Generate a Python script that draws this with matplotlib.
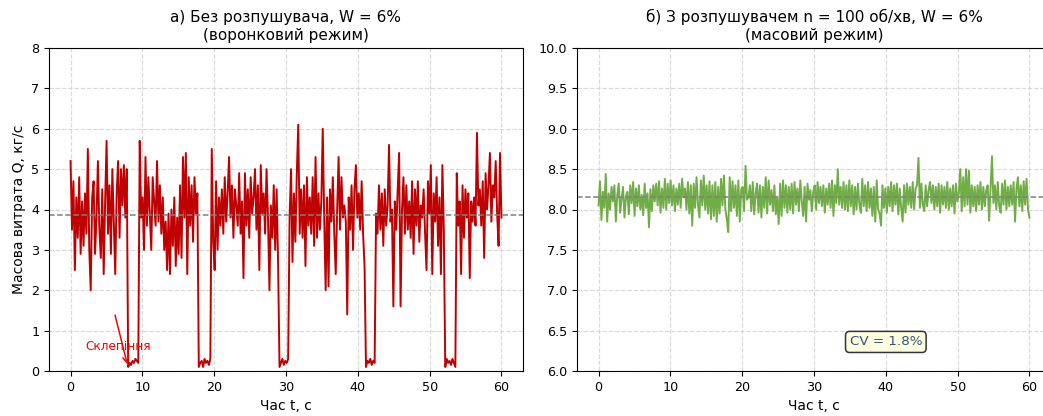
import numpy as np
import matplotlib
matplotlib.use("Agg")
import matplotlib.pyplot as plt

# ---------------- data ----------------
n_points = 300
time_s = np.linspace(0, 60, n_points)

# a) without agitator (funnel flow), Q, kg/s  (5 samples per second)
flow_a = [
    5.2, 3.5, 4.7, 2.5, 4.3, 3.3, 4.8, 2.9, 4.2, 3.1,
    4.4, 3.4, 5.5, 3.0, 2.0, 4.3, 4.7, 2.9, 3.8, 5.2,
    3.5, 2.8, 4.5, 2.4, 4.2, 5.7, 3.4, 4.6, 2.9, 5.0,
    3.7, 2.4, 4.4, 5.2, 3.3, 5.0, 4.1, 5.1, 3.8, 5.0,
    0.1, 0.2, 0.15, 0.25, 0.2, 0.3, 0.25, 0.2, 5.7, 3.8,
    4.3, 3.0, 5.3, 3.6, 4.8, 3.9, 3.0, 4.8, 4.2, 3.6,
    5.2, 3.7, 4.6, 3.4, 4.3, 3.0, 3.7, 2.5, 3.9, 2.4,
    4.0, 3.1, 4.3, 2.6, 3.8, 2.9, 4.6, 2.8, 5.3, 3.8,
    5.4, 2.4, 4.8, 3.6, 4.6, 3.2, 4.8, 3.9, 4.4, 0.1,
    0.2, 0.25, 0.1, 0.3, 0.2, 0.25, 0.15, 0.3, 5.5, 3.2,
    2.5, 4.7, 3.0, 4.3, 3.6, 4.5, 3.4, 4.8, 3.7, 4.4,
    5.3, 3.8, 4.6, 3.3, 4.5, 4.1, 3.6, 4.9, 3.4, 4.2,
    2.3, 4.9, 3.6, 4.5, 3.3, 4.8, 3.9, 4.3, 5.0, 3.5,
    4.6, 2.5, 5.1, 3.9, 4.4, 3.4, 5.0, 3.8, 2.0, 4.1,
    3.3, 4.6, 3.0, 4.5, 2.7, 0.1, 0.2, 0.3, 0.15, 0.25,
    0.2, 0.3, 3.8, 5.0, 2.7, 4.4, 3.2, 4.9, 6.1, 3.4,
    4.5, 3.3, 4.6, 2.6, 4.8, 3.6, 4.3, 3.4, 4.8, 3.1,
    5.3, 3.3, 4.4, 3.5, 4.2, 6.0, 3.8, 2.0, 4.3, 2.1,
    4.5, 3.7, 4.8, 3.4, 2.4, 4.0, 5.3, 3.5, 4.8, 3.8,
    4.1, 3.7, 1.4, 4.3, 3.5, 4.6, 3.0, 4.5, 5.1, 3.8,
    4.4, 3.5, 4.7, 3.4, 2.6, 0.1, 0.25, 0.2, 0.3, 0.15,
    0.25, 0.2, 3.9, 3.4, 4.6, 3.5, 4.4, 3.1, 4.5, 3.6,
    4.1, 5.6, 3.7, 4.0, 1.6, 4.2, 3.5, 4.5, 5.4, 1.6,
    4.0, 4.8, 3.4, 4.6, 3.5, 4.2, 3.3, 4.7, 2.9, 4.5,
    3.6, 4.7, 3.2, 4.1, 3.8, 4.5, 3.4, 2.5, 4.7, 3.9,
    5.1, 2.4, 4.4, 3.7, 4.8, 3.1, 4.3, 2.4, 5.1, 3.5,
    0.1, 0.3, 0.2, 0.25, 0.15, 0.3, 0.2, 0.1, 4.9, 3.6,
    4.2, 2.4, 4.6, 3.3, 4.5, 3.8, 4.4, 2.3, 4.2, 3.7,
    4.3, 3.6, 5.9, 4.1, 4.5, 3.6, 4.7, 2.8, 4.9, 4.0,
    4.6, 5.4, 3.7, 4.6, 4.3, 5.2, 3.9, 3.1, 5.4, 3.8,
]

# b) with agitator n = 100 rpm (mass flow), Q, kg/s
flow_b = [
    8.05, 8.35, 7.87, 8.22, 8.02, 8.44, 7.85, 8.20, 8.00, 8.28,
    8.10, 8.30, 7.85, 8.18, 8.32, 7.96, 8.14, 8.28, 7.90, 8.16,
    8.22, 7.94, 8.30, 8.08, 8.34, 7.92, 8.26, 8.04, 8.30, 8.00,
    8.18, 7.93, 8.32, 8.02, 8.20, 7.78, 8.25, 7.98, 8.30, 8.10,
    8.32, 8.05, 8.35, 7.96, 8.26, 8.02, 8.38, 8.00, 8.32, 8.08,
    8.36, 8.05, 8.30, 7.98, 8.26, 8.06, 8.32, 8.02, 8.38, 8.15,
    8.26, 8.00, 8.34, 7.95, 8.30, 7.80, 8.32, 8.02, 8.40, 8.06,
    7.90, 8.36, 8.05, 8.42, 8.00, 8.30, 7.95, 8.35, 7.88, 8.30,
    7.92, 8.34, 7.85, 8.28, 7.95, 8.38, 8.05, 8.42, 8.00, 7.88,
    7.72, 8.40, 7.98, 8.35, 8.02, 8.30, 7.92, 8.36, 7.85, 8.25,
    8.28, 7.98, 8.54, 8.12, 8.15, 8.30, 7.98, 8.34, 7.94, 8.20,
    8.32, 7.96, 8.30, 7.90, 8.28, 8.02, 8.40, 7.95, 8.36, 8.06,
    8.24, 7.98, 8.30, 7.94, 8.16, 7.82, 8.32, 7.92, 8.36, 8.02,
    8.30, 7.96, 8.28, 8.00, 8.32, 7.95, 8.34, 8.06, 8.26, 7.98,
    8.36, 8.10, 7.92, 8.28, 7.85, 8.32, 8.12, 8.24, 7.98, 8.22,
    8.30, 8.00, 8.34, 8.08, 8.28, 8.04, 8.30, 7.96, 8.26, 8.06,
    8.32, 8.02, 8.36, 7.92, 8.30, 8.08, 8.50, 8.06, 8.28, 8.02,
    8.34, 8.00, 8.30, 7.98, 8.36, 8.04, 8.30, 7.94, 8.28, 8.00,
    8.32, 8.06, 7.96, 8.38, 8.04, 8.30, 7.98, 8.34, 8.02, 8.26,
    7.92, 8.28, 7.85, 8.36, 8.00, 7.95, 7.80, 8.30, 8.02, 8.26,
    7.96, 8.28, 8.04, 8.34, 7.98, 8.30, 8.06, 8.32, 7.94, 8.26,
    8.02, 7.85, 8.30, 7.96, 8.32, 8.06, 8.28, 8.02, 8.34, 8.00,
    8.26, 8.30, 8.64, 8.02, 8.32, 8.06, 7.98, 8.30, 8.04, 8.24,
    8.34, 8.08, 8.30, 8.00, 8.28, 8.04, 8.32, 7.96, 8.30, 8.06,
    8.28, 8.02, 8.34, 8.00, 8.26, 8.04, 8.30, 7.95, 8.32, 8.10,
    8.20, 8.50, 7.98, 8.40, 8.04, 8.50, 8.06, 8.48, 7.96, 8.30,
    8.04, 8.28, 7.98, 8.30, 8.06, 8.34, 8.00, 8.28, 8.04, 8.24,
    8.30, 7.86, 8.26, 8.66, 8.08, 8.30, 8.00, 8.34, 8.04, 7.96,
    8.32, 8.06, 8.36, 8.00, 8.28, 8.04, 8.30, 8.06, 8.34, 7.85,
    8.26, 8.40, 8.04, 8.30, 7.98, 8.35, 8.06, 8.38, 8.00, 7.90,
]

mean_a = 3.86
mean_b = 8.15
cv_b_label = "CV = 1.8%"
arch_label = "Склепіння"
arch_point = (8.0, 0.1)
arch_text_from = (6.1, 1.45)
arch_text_pos = (2.0, 0.6)

title_a = "а) Без розпушувача, W = 6%\n(воронковий режим)"
title_b = "б) З розпушувачем n = 100 об/хв, W = 6%\n(масовий режим)"
xlabel = "Час t, с"
ylabel = "Масова витрата Q, кг/с"

# ---------------- plot ----------------
W, H = 1043, 416
fig = plt.figure(figsize=(W / 100, H / 100), dpi=100)

axw = 474 / W
axh = 323 / H
bottom = (H - 371) / H
ax1 = fig.add_axes([49 / W, bottom, axw, axh])
ax2 = fig.add_axes([577 / W, bottom, axw, axh])

red = "#c00000"
green = "#70ad47"

for ax in (ax1, ax2):
    ax.grid(True, linestyle="--", color="#d0d0d0", linewidth=0.85, alpha=0.8)
    ax.set_axisbelow(True)
    ax.set_xlim(-3, 63)
    ax.set_xticks([0, 10, 20, 30, 40, 50, 60])
    ax.set_xlabel(xlabel, fontsize=10)
    ax.tick_params(labelsize=9.2)

ax1.plot(time_s, flow_a, color=red, linewidth=1.4)
ax1.axhline(mean_a, color="gray", linestyle="--", linewidth=1.1)
ax1.set_ylim(0, 8)
ax1.set_yticks(range(0, 9))
ax1.set_ylabel(ylabel, fontsize=10)
ax1.set_title(title_a, fontsize=11)
ax1.annotate("", xy=arch_point, xytext=arch_text_from,
             arrowprops=dict(arrowstyle="->", color="red", lw=1.1))
ax1.text(arch_text_pos[0], arch_text_pos[1], arch_label, color="red",
         fontsize=8.7, va="center", ha="left")

ax2.plot(time_s, flow_b, color=green, linewidth=1.4)
ax2.axhline(mean_b, color="gray", linestyle="--", linewidth=1.1)
ax2.set_ylim(6, 10)
ax2.set_yticks(np.arange(6.0, 10.01, 0.5))
ax2.yaxis.set_major_formatter(matplotlib.ticker.FormatStrFormatter("%.1f"))
ax2.set_title(title_b, fontsize=11)
ax2.text(40.0, 6.36, cv_b_label, fontsize=9.7, color="#2f5673",
         ha="center", va="center",
         bbox=dict(boxstyle="round,pad=0.3", facecolor="#fdfde0",
                   edgecolor="#333333", linewidth=1.1))

fig.savefig("out.png", dpi=100)
